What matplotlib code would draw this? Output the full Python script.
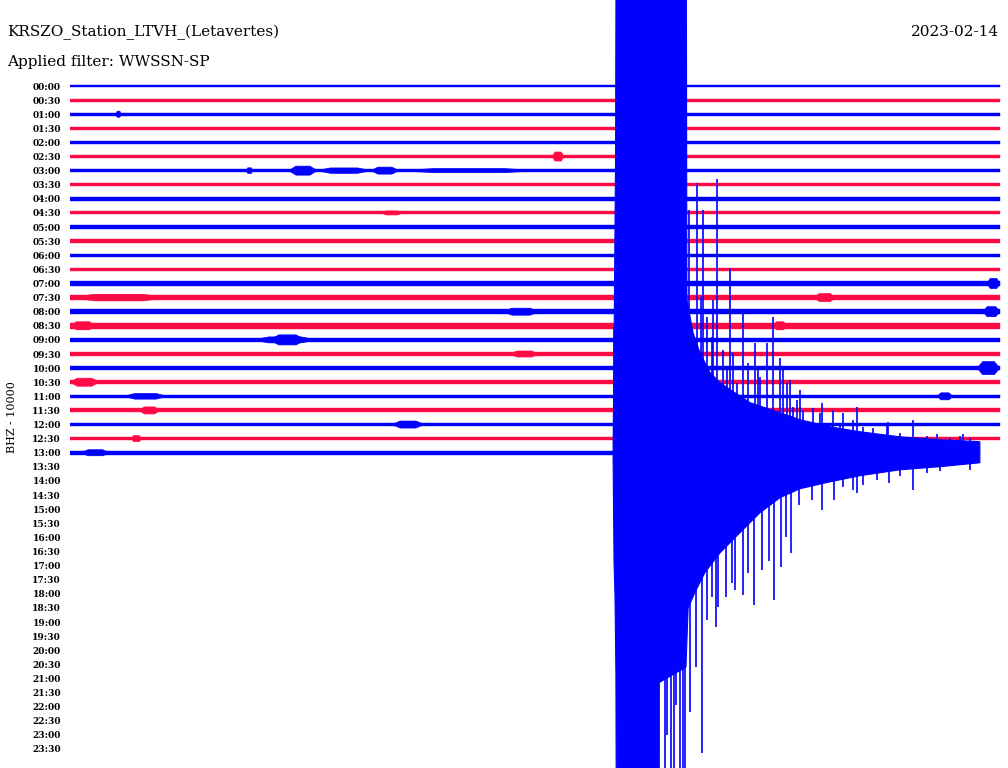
"""
plot.py

Helicorder (drum) plot of station KRSZO LTVH (Letavertes), BHZ channel,
2023-02-14, WWSSN-SP filter. One line per 30 minutes; the 13:00 line
holds the large event that starts at about 13:17.
"""
import matplotlib.pyplot as plt


# === Data =====================================================================

station_title = 'KRSZO_Station_LTVH_(Letavertes)'
day = '2023-02-14'
filter_name = 'WWSSN-SP'
channel_label = 'BHZ - 10000'

line_labels = ['{:02d}:{:02d}'.format(h, m) for h in range(24) for m in (0, 30)]
counts_per_line = 10000      # trace offset between two lines (counts)
line_minutes = 30            # length of one line (minutes)
clip = 500000                # swings far off the drum

# Background noise half-amplitude (counts) of each recorded line, 00:00 ... 13:00
noise_amp = [1060, 1060, 1060, 850, 1060, 1060, 920, 1060, 1200, 1060,
             1350, 1280, 1200, 1280, 1630, 2060, 1910, 1990, 1280, 1420,
             1420, 1490, 1200, 1420, 1130, 1280, 1560]
last_line_end = 17.52        # the 13:00 line noise runs up to the event onset

# Local noise bursts: (line index, start minute, end minute, half-amplitude)
bursts = [
    (2, 1.48, 1.65, 2130),
    (5, 15.55, 15.94, 3190),
    (6, 5.68, 5.90, 1990),
    (6, 7.06, 7.97, 3190),
    (6, 7.97, 9.71, 1910),
    (6, 9.71, 10.61, 2480),
    (6, 10.61, 15.13, 1420),
    (9, 10.03, 10.74, 1420),
    (14, 29.58, 30.0, 3550),
    (15, 0.03, 3.13, 2340),
    (15, 24.0, 24.7, 2840),
    (16, 13.97, 15.13, 2480),
    (16, 29.45, 30.0, 3550),
    (17, 0.0, 0.84, 2840),
    (17, 22.68, 23.13, 2840),
    (18, 5.90, 7.97, 2130),
    (18, 6.45, 7.58, 3550),
    (19, 14.19, 15.13, 2130),
    (20, 29.26, 30.0, 4610),
    (21, 0.0, 0.94, 2840),
    (22, 1.74, 3.13, 1990),
    (22, 27.97, 28.48, 2480),
    (23, 2.23, 2.90, 2480),
    (24, 10.39, 11.42, 2480),
    (25, 1.97, 2.32, 2130),
    (26, 0.35, 1.29, 2130),
]

# Event on the 13:00 line: body envelope (minute, counts up / down)
eq_top_min = [17.52, 17.55, 17.60, 17.63, 19.87, 19.90, 20.10, 20.32, 20.65,
              20.97, 21.45, 21.94, 22.42, 22.90, 23.55, 24.52, 25.48, 26.77,
              28.06, 29.35]
eq_top_amp = [2800, 75200, 212700, clip, clip, 108500, 85000, 70900, 56700,
              49600, 42500, 35500, 31900, 28400, 23400, 18400, 14900, 11300,
              9200, 7800]
eq_bot_min = [17.52, 17.55, 17.58, 17.61, 17.65, 18.97, 19.00, 19.87, 19.94,
              20.16, 20.48, 20.97, 21.61, 22.26, 22.90, 23.55, 24.52, 25.48,
              26.77, 28.06, 29.35]
eq_bot_amp = [5000, 78000, 100700, 156000, clip, clip, 163000, 152000, 110000,
              99000, 85000, 70900, 56700, 42500, 31900, 25500, 20600, 16300,
              12100, 9900, 7100]

# Single swings sticking out of the envelope (minute, counts)
spike_up_min = [17.55, 19.97, 20.23, 20.35, 20.42, 20.55, 20.71, 20.74, 20.87,
                21.06, 21.19, 21.29, 21.39, 21.52, 21.71, 21.87, 22.10, 22.19,
                22.26, 22.48, 22.68, 22.90, 23.00, 23.13, 23.23, 23.32, 23.45,
                23.55, 23.65, 23.97, 24.19, 24.26, 24.61, 24.84, 24.94, 25.26,
                25.39, 25.58, 25.90, 26.35, 26.39, 26.77, 27.19, 27.65, 27.97,
                28.39, 28.71, 28.81, 29.03]
spike_up_amp = [89300, 172300, 191400, 110600, 172300, 96400, 82200, 108500,
                194000, 73000, 61000, 131200, 70900, 49600, 99300, 63800, 78000,
                58800, 53900, 78000, 96400, 67400, 61000, 49600, 51800, 32600,
                37600, 44700, 30500, 31900, 28400, 35500, 30500, 21300, 28400,
                23400, 32600, 18400, 17700, 19900, 22000, 14200, 23400, 12100,
                13500, 10600, 12100, 13500, 10600]
spike_down_min = [19.00, 19.19, 19.26, 19.39, 19.48, 19.55, 19.68, 19.77,
                  19.84, 20.00, 20.19, 20.39, 20.55, 20.71, 20.84, 20.90,
                  21.16, 21.35, 21.45, 21.71, 21.87, 22.06, 22.32, 22.55,
                  22.71, 22.94, 23.10, 23.26, 23.52, 23.94, 24.26, 24.65,
                  24.94, 25.26, 25.39, 25.58, 26.03, 26.42, 26.77, 27.19,
                  27.65, 28.06, 29.03]
spike_down_amp = [clip, clip, 200000, clip, clip, 178700, clip, clip, clip,
                  183600, 151700, 212700, 118400, 102100, 123400, 109200,
                  102100, 92200, 97100, 100700, 85000, 107800, 83000, 77000,
                  104200, 80800, 60000, 70900, 36900, 33300, 40400, 33300,
                  24100, 26200, 28400, 22700, 19100, 21300, 16300, 26200,
                  14200, 12800, 12100]


# === Plot style ===============================================================

class PlotStyle:
    """
    Line colours alternate between blue and red.
    """
    colors = ['#0000ff', '#ff0a45']
    font = 'DejaVu Serif'


# === Plotting Functions =======================================================

def draw_line_noise(ax, idx, amp, end):
    """
    Draw one helicorder line as a band of its background noise.
    """
    color = PlotStyle.colors[idx % 2]
    h = amp / counts_per_line
    ax.fill_between([0, end], idx - h, idx + h, color=color, lw=0.3)


def draw_burst(ax, idx, start, stop, amp):
    """
    Draw a short spindle of higher amplitude on a line.
    """
    color = PlotStyle.colors[idx % 2]
    h = amp / counts_per_line
    q = (stop - start) / 4
    xs = [start, start + q, stop - q, stop, stop - q, start + q]
    ys = [idx, idx - h, idx - h, idx, idx + h, idx + h]
    ax.fill(xs, ys, color=color, lw=0.5)


def draw_event(ax, idx):
    """
    Draw the earthquake recorded on line idx.
    """
    color = PlotStyle.colors[idx % 2]
    xs = eq_top_min + eq_bot_min[::-1]
    ys = [idx - a / counts_per_line for a in eq_top_amp] + \
         [idx + a / counts_per_line for a in eq_bot_amp[::-1]]
    ax.fill(xs, ys, color=color, lw=0.8)
    ax.vlines(spike_up_min, idx, [idx - a / counts_per_line for a in spike_up_amp],
              color=color, lw=1.2)
    ax.vlines(spike_down_min, idx, [idx + a / counts_per_line for a in spike_down_amp],
              color=color, lw=1.2)


fig = plt.figure(figsize=(10.08, 7.68), dpi=100)
ax = fig.add_axes([70 / 1008, 0, 930 / 1008, 1])

for idx, amp in enumerate(noise_amp):
    end = last_line_end if idx == len(noise_amp) - 1 else line_minutes
    draw_line_noise(ax, idx, amp, end)
for idx, start, stop, amp in bursts:
    draw_burst(ax, idx, start, stop, amp)
draw_event(ax, len(noise_amp) - 1)

ax.set_xlim(0, line_minutes)
ax.set_ylim(48.35, -6.097)
ax.set_xticks([])
ax.set_yticks(range(len(line_labels)))
ax.set_yticklabels(line_labels, fontsize=6.5, fontweight='bold',
                   family=PlotStyle.font)
ax.tick_params(axis='y', length=0, pad=6.5)
for spine in ax.spines.values():
    spine.set_visible(False)

fig.text(7 / 1008, 1 - 36 / 768, station_title, fontsize=11,
         family=PlotStyle.font, va='baseline')
fig.text(999 / 1008, 1 - 36 / 768, day, fontsize=11, ha='right',
         family=PlotStyle.font, va='baseline')
fig.text(7 / 1008, 1 - 66 / 768, 'Applied filter: ' + filter_name, fontsize=11,
         family=PlotStyle.font, va='baseline')
fig.text(12 / 1008, 1 - 417 / 768, channel_label, fontsize=8, rotation=90,
         ha='center', va='center', family=PlotStyle.font)

plt.savefig('out.png', dpi=100, facecolor='white')
plt.close()
